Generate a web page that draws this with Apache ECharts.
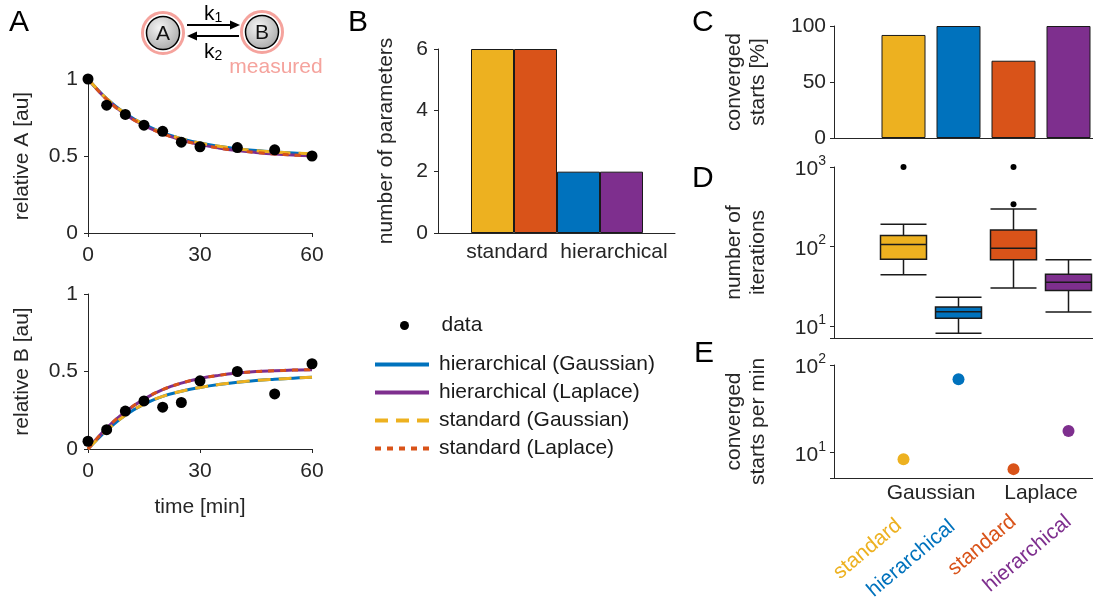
<!DOCTYPE html>
<html>
<head>
<meta charset="utf-8">
<title>hierarchical vs standard fitting</title>
<script src="https://cdn.jsdelivr.net/npm/echarts@6/dist/echarts.min.js"></script>
<style>
	html, body { margin: 0; padding: 0; background: #fff; }
	#main { width: 1093px; height: 599px; }
</style>
</head>
<body>
<div id="main"></div>
<script>
'use strict';

// ---- data ----
// panel A: measurements
var time = [0, 5, 10, 15, 20, 25, 30, 40, 50, 60];
var dataA = [1.0, 0.83, 0.77, 0.70, 0.66, 0.59, 0.56, 0.555, 0.54, 0.50];
var dataB = [0.05, 0.125, 0.245, 0.31, 0.27, 0.30, 0.44, 0.50, 0.355, 0.55];

// panel A: fitted trajectories
var fitTime = [0, 5, 10, 15, 20, 25, 30, 35, 40, 45, 50, 55, 60];
var fitAGauss = [1.0, 0.872, 0.776, 0.705, 0.652, 0.613, 0.584, 0.563, 0.547, 0.535, 0.526, 0.519, 0.514];
var fitALaplace = [1.0, 0.868, 0.770, 0.698, 0.645, 0.604, 0.574, 0.552, 0.535, 0.523, 0.513, 0.506, 0.501];
var fitBGauss = [0, 0.12, 0.218, 0.29, 0.34, 0.373, 0.397, 0.416, 0.43, 0.442, 0.45, 0.457, 0.463];
var fitBLaplace = [0, 0.135, 0.24, 0.322, 0.383, 0.425, 0.455, 0.475, 0.49, 0.50, 0.505, 0.509, 0.512];

// panel B
var approaches = ['standard', 'hierarchical'];
var paramsGaussian = [6, 2];
var paramsLaplace = [6, 2];

// panels C-E: order = standard G, hierarchical G, standard L, hierarchical L
var methodKeys = ['stdGauss', 'hierGauss', 'stdLaplace', 'hierLaplace'];
var methodLabels = ['standard', 'hierarchical', 'standard', 'hierarchical'];
var noiseModels = ['Gaussian', 'Laplace'];
var convergedPct = [92, 100, 69, 100];
// [min, Q1, median, Q3, max]
var iterStats = [
	[44, 69, 106, 137, 190],
	[8.1, 12.5, 15.1, 17.3, 23],
	[30, 68, 95, 161, 296],
	[15, 28, 35.4, 44.7, 68]
];
var iterOutliers = [['stdGauss', 1000], ['stdLaplace', 1000], ['stdLaplace', 339]];
var startsPerMin = [8.4, 69, 6.5, 17.7];

// ---- style ----
var FONT = "'Liberation Sans', Arial, Helvetica, sans-serif";
var AX = '#262626';
var YEL = '#EDB120', RED = '#D95319', BLUE = '#0072BD', PUR = '#7E2F8E';
var methodColors = [YEL, BLUE, RED, PUR];
var PINK = '#f5a39d';

function ax(o) {
	var a = {
		axisLine: { show: true, onZero: false, lineStyle: { color: AX, width: 1 } },
		axisTick: { show: true, inside: false, length: 4, lineStyle: { color: AX } },
		axisLabel: { color: AX, fontSize: 21, fontFamily: FONT, margin: 10 },
		splitLine: { show: false },
		nameTextStyle: { color: AX, fontSize: 21, fontFamily: FONT, lineHeight: 24 }
	};
	for (var k in o) {
		if (a[k] && typeof o[k] === 'object' && !Array.isArray(o[k])) {
			a[k] = Object.assign({}, a[k], o[k]);
		} else {
			a[k] = o[k];
		}
	}
	return a;
}

// bare axis line only
function frameX(grid) {
	return ax({ gridIndex: grid, type: 'value', min: 0, max: 1, position: 'bottom',
		axisTick: { show: false }, axisLabel: { show: false } });
}
function hiddenY(grid, extra) {
	return Object.assign({ gridIndex: grid, show: false, splitLine: { show: false } }, extra);
}
function catX(grid, data, label) {
	return ax({ gridIndex: grid, type: 'category', data: data, position: 'bottom',
		axisLine: { show: false }, axisTick: { show: false },
		axisLabel: Object.assign({ show: false, interval: 0, hideOverlap: false }, label) });
}
function tok(color, pad) {
	return { fontSize: 21, fontFamily: FONT, color: color, padding: pad };
}

function logLabel(v) {
	var p = Math.log10(v);
	if (Math.abs(p - Math.round(p)) > 1e-6) return '';
	return '{b|10}{s|' + Math.round(p) + '}';
}
var logRich = {
	b: { fontSize: 21, fontFamily: FONT, color: AX, verticalAlign: 'bottom', lineHeight: 26 },
	s: { fontSize: 14, fontFamily: FONT, color: AX, verticalAlign: 'top', lineHeight: 26 }
};

function pairs(xs, ys) {
	return xs.map(function (x, i) { return [x, ys[i]]; });
}
function colored(vals) {
	return vals.map(function (v, i) { return { value: v, itemStyle: { color: methodColors[i] } }; });
}

var noGrid = { outerBoundsMode: 'none', containLabel: false };
var grids = [
	{ left: 88, top: 79, width: 224, height: 154 },     // A top
	{ left: 88, top: 294, width: 224, height: 155 },    // A bottom
	{ left: 438, top: 49, width: 237, height: 184 },    // B frame
	{ left: 471, top: 49, width: 172, height: 184 },    // B bars
	{ left: 834, top: 26, width: 262, height: 112 },    // C frame
	{ left: 876, top: 26, width: 220, height: 112 },    // C bars
	{ left: 834, top: 167, width: 262, height: 171 },   // D frame
	{ left: 876, top: 167, width: 220, height: 171 },   // D boxes
	{ left: 834, top: 365, width: 262, height: 113 },   // E frame
	{ left: 876, top: 365, width: 220, height: 113 }    // E points
].map(function (g) { return Object.assign({}, noGrid, g); });

var xAxes = [
	ax({ gridIndex: 0, type: 'value', min: 0, max: 60, interval: 30, axisLabel: { margin: 12 } }),
	ax({ gridIndex: 1, type: 'value', min: 0, max: 60, interval: 30, axisLabel: { margin: 12 },
		name: 'time [min]', nameLocation: 'middle', nameGap: 46 }),
	frameX(2),
	catX(3, approaches, { show: true, margin: 9,
		formatter: function (v, i) { return '{p' + i + '|' + v + '}'; },
		rich: { p0: tok(AX, [0, 14, 0, 0]), p1: tok(AX, [0, 0, 0, 28]) } }),
	frameX(4),
	catX(5, methodKeys),
	frameX(6),
	catX(7, methodKeys),
	frameX(8),
	catX(9, methodKeys),
	catX(9, noiseModels, { show: true, margin: 5 }),
	catX(9, methodKeys, { show: true, margin: 41, rotate: 40,
		formatter: function (v, i) { return '{m' + i + '|' + methodLabels[i] + '}'; },
		rich: {
			m0: tok(methodColors[0], [0, 6, 0, 0]),
			m1: tok(methodColors[1], [0, 8, 0, 0]),
			m2: tok(methodColors[2], [0, 0, 0, 0]),
			m3: tok(methodColors[3], [0, 0, 0, 0])
		} })
];

var yAxes = [
	ax({ gridIndex: 0, type: 'value', min: 0, max: 1, interval: 0.5,
		name: 'relative A [au]', nameLocation: 'middle', nameGap: 54 }),
	ax({ gridIndex: 1, type: 'value', min: 0, max: 1, interval: 0.5,
		name: 'relative B [au]', nameLocation: 'middle', nameGap: 54 }),
	ax({ gridIndex: 2, type: 'value', min: 0, max: 6, interval: 2,
		name: 'number of parameters', nameLocation: 'middle', nameGap: 40 }),
	hiddenY(3, { type: 'value', min: 0, max: 6 }),
	ax({ gridIndex: 4, type: 'value', min: 0, max: 100, interval: 50, axisLabel: { margin: 8 },
		name: 'converged\nstarts [%]', nameLocation: 'middle', nameGap: 64 }),
	hiddenY(5, { type: 'value', min: 0, max: 100 }),
	ax({ gridIndex: 6, type: 'log', min: 7.06, max: 1000, splitNumber: 2,
		axisLabel: { margin: 8, formatter: logLabel, rich: logRich },
		name: 'number of\niterations', nameLocation: 'middle', nameGap: 64 }),
	hiddenY(7, { type: 'log', min: 7.06, max: 1000 }),
	ax({ gridIndex: 8, type: 'log', min: 5.15, max: 100, splitNumber: 1,
		axisLabel: { margin: 8, formatter: logLabel, rich: logRich },
		name: 'converged\nstarts per min', nameLocation: 'middle', nameGap: 64 }),
	hiddenY(9, { type: 'log', min: 5.15, max: 100 })
];

// fitted curves for one panel of A
function fitSeries(xi, gauss, laplace) {
	var common = { type: 'line', xAxisIndex: xi, yAxisIndex: xi, showSymbol: false, symbol: 'none',
		smooth: 0.4, silent: true };
	return [
		Object.assign({ name: 'hierarchical (Gaussian)', data: pairs(fitTime, gauss), color: BLUE,
			lineStyle: { color: BLUE, width: 3 } }, common),
		Object.assign({ name: 'hierarchical (Laplace)', data: pairs(fitTime, laplace), color: PUR,
			lineStyle: { color: PUR, width: 3 } }, common),
		Object.assign({ name: 'standard (Gaussian)', data: pairs(fitTime, gauss), color: YEL,
			lineStyle: { color: YEL, width: 3, type: [13, 8] } }, common),
		Object.assign({ name: 'standard (Laplace)', data: pairs(fitTime, laplace), color: RED,
			lineStyle: { color: RED, width: 3, type: [6, 6] } }, common),
		{ name: 'data', type: 'scatter', xAxisIndex: xi, yAxisIndex: xi, symbolSize: 11, z: 5,
			itemStyle: { color: '#000', opacity: 1 }, data: pairs(time, xi === 0 ? dataA : dataB) }
	];
}

var series = fitSeries(0, fitAGauss, fitALaplace).concat(fitSeries(1, fitBGauss, fitBLaplace));

// B
series.push({
	name: 'params Gaussian', type: 'bar', xAxisIndex: 3, yAxisIndex: 3, barGap: '0%', barCategoryGap: '0%',
	itemStyle: { borderColor: '#1a1a1a', borderWidth: 1 },
	data: paramsGaussian.map(function (v, i) { return { value: v, itemStyle: { color: [YEL, BLUE][i] } }; })
});
series.push({
	name: 'params Laplace', type: 'bar', xAxisIndex: 3, yAxisIndex: 3, barGap: '0%', barCategoryGap: '0%',
	itemStyle: { borderColor: '#1a1a1a', borderWidth: 1 },
	data: paramsLaplace.map(function (v, i) { return { value: v, itemStyle: { color: [RED, PUR][i] } }; })
});

// C
series.push({
	name: 'converged', type: 'bar', xAxisIndex: 5, yAxisIndex: 5, barWidth: 44,
	itemStyle: { borderColor: '#1a1a1a', borderWidth: 1 },
	data: colored(convergedPct)
});

// D
series.push({
	name: 'iterations', type: 'boxplot', xAxisIndex: 7, yAxisIndex: 7, boxWidth: [46, 46],
	itemStyle: { borderColor: '#1a1a1a', borderWidth: 1.5 },
	data: colored(iterStats)
});
series.push({
	name: 'outliers', type: 'scatter', xAxisIndex: 7, yAxisIndex: 7, symbolSize: 6, z: 5,
	itemStyle: { color: '#000', opacity: 1 }, data: iterOutliers
});

// E
series.push({
	name: 'starts per min', type: 'scatter', xAxisIndex: 9, yAxisIndex: 9, symbolSize: 12,
	itemStyle: { opacity: 1 },
	data: colored(startsPerMin)
});

function letter(t, x, y) {
	return { type: 'text', left: x, top: y, style: { text: t, font: '30px ' + FONT, fill: '#000' } };
}
function species(t, cx, cy) {
	return [
		{ type: 'circle', shape: { cx: cx, cy: cy, r: 20.5 }, style: { fill: 'none', stroke: PINK, lineWidth: 3 } },
		{ type: 'circle', shape: { cx: cx, cy: cy, r: 16.5 }, style: {
			fill: new echarts.graphic.RadialGradient(0.4, 0.35, 0.75, [
				{ offset: 0, color: '#f4f4f4' }, { offset: 1, color: '#a3a3a3' }]),
			stroke: '#000', lineWidth: 1.5 } },
		{ type: 'text', x: cx, y: cy + 1, style: { text: t, font: '21px ' + FONT, fill: '#111',
			align: 'center', verticalAlign: 'middle' } }
	];
}
var subRich = {
	k: { fontSize: 21, fontFamily: FONT, fill: '#000', verticalAlign: 'bottom', lineHeight: 24 },
	s: { fontSize: 14, fontFamily: FONT, fill: '#000', verticalAlign: 'bottom', lineHeight: 20 }
};

var graphics = [
	letter('A', 9, 8), letter('B', 348, 8), letter('C', 692, 8), letter('D', 692, 164), letter('E', 694, 339),
	{ type: 'line', shape: { x1: 187, y1: 25, x2: 231, y2: 25 }, style: { stroke: '#000', lineWidth: 2 } },
	{ type: 'polygon', shape: { points: [[240, 25], [230, 20.5], [230, 29.5]] }, style: { fill: '#000' } },
	{ type: 'line', shape: { x1: 197, y1: 36, x2: 239, y2: 36 }, style: { stroke: '#000', lineWidth: 2 } },
	{ type: 'polygon', shape: { points: [[187, 36], [197, 31.5], [197, 40.5]] }, style: { fill: '#000' } },
	{ type: 'text', x: 204, y: 1, style: { text: '{k|k}{s|1}', rich: subRich } },
	{ type: 'text', x: 204, y: 39, style: { text: '{k|k}{s|2}', rich: subRich } },
	{ type: 'text', x: 276, y: 67, style: { text: 'measured', font: '21px ' + FONT, fill: PINK,
		align: 'center', verticalAlign: 'middle' } }
].concat(species('A', 163, 33), species('B', 262, 32));

var legendText = { color: '#1a1a1a', fontSize: 21, fontFamily: FONT, padding: [0, 0, 0, 5] };

var myChart = echarts.init(document.getElementById('main'), null, { renderer: 'canvas' });
var option = {
	animation: false,
	backgroundColor: '#fff',
	textStyle: { fontFamily: FONT },
	grid: grids,
	xAxis: xAxes,
	yAxis: yAxes,
	legend: [
		{ data: ['data'], left: 400, top: 315, padding: 0, itemWidth: 54, itemHeight: 9, selectedMode: false,
			textStyle: legendText },
		{ data: ['hierarchical (Gaussian)', 'hierarchical (Laplace)', 'standard (Gaussian)', 'standard (Laplace)'],
			orient: 'vertical', left: 373, top: 354, padding: 0, itemWidth: 54, itemHeight: 14, itemGap: 7,
			selectedMode: false, lineStyle: { width: 4 }, itemStyle: { opacity: 0 }, textStyle: legendText }
	],
	graphic: graphics,
	series: series
};
myChart.setOption(option);
</script>
</body>
</html>
